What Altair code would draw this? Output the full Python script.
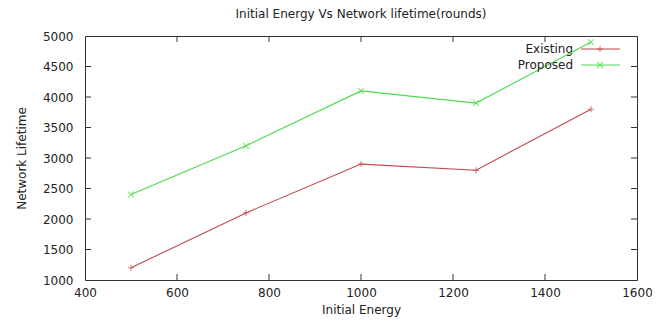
import altair as alt
import pandas as pd

energy = [500, 750, 1000, 1250, 1500]
existing = [1200, 2100, 2900, 2800, 3800]
proposed = [2400, 3200, 4100, 3900, 4900]
series_names = ["Existing", "Proposed"]
series_colors = ["#c04848", "#4cdc4c"]
x_ticks = [400, 600, 800, 1000, 1200, 1400, 1600]
y_ticks = [1000, 1500, 2000, 2500, 3000, 3500, 4000, 4500, 5000]

W, H = 552, 244
FONT = "DejaVu Sans"

xs = alt.Scale(domain=[x_ticks[0], x_ticks[-1]], nice=False)
ys = alt.Scale(domain=[y_ticks[0], y_ticks[-1]], nice=False)

shapes = ["M-1,0L1,0M0,-1L0,1", "M-1,-1L1,1M-1,1L1,-1"]

x_axis = alt.Axis(
    title="Initial Energy", values=x_ticks, format="d", tickSize=0, labelPadding=7,
    labelFont=FONT, labelFontSize=12, labelColor="#222", titleFont=FONT,
    titleFontSize=12, titleFontWeight="normal", titleColor="#222",
    titlePadding=6, grid=False, domain=False, labelFlush=False, labelOverlap=False)
y_axis = alt.Axis(
    title="Network Lifetime", values=y_ticks, format="d", tickSize=0, labelPadding=12,
    labelFont=FONT, labelFontSize=12, labelColor="#222", titleFont=FONT,
    titleFontSize=12, titleFontWeight="normal", titleColor="#222",
    titlePadding=14, grid=False, domain=False, labelFlush=False, labelOverlap=False)

layers = []
for i, (name, vals) in enumerate([(series_names[0], existing), (series_names[1], proposed)]):
    sdf = pd.DataFrame({"energy": energy, "lifetime": vals})
    base = alt.Chart(sdf)
    line = base.mark_line(color=series_colors[i], strokeWidth=1.1).encode(
        x=alt.X("energy:Q", scale=xs, axis=x_axis),
        y=alt.Y("lifetime:Q", scale=ys, axis=y_axis),
    )
    pts = base.mark_point(shape=shapes[i], filled=False, size=36, color=series_colors[i],
                          strokeWidth=1.1).encode(
        x=alt.X("energy:Q", scale=xs, axis=x_axis),
        y=alt.Y("lifetime:Q", scale=ys, axis=y_axis))
    layers += [line, pts]

    # legend (gnuplot style: label then sample)
    ly = 13 + i * 16
    leg = pd.DataFrame({"name": [name]})
    ltext = alt.Chart(leg).mark_text(align="right", baseline="middle", font=FONT,
                                     fontSize=12, color="#222").encode(
        text="name:N", x=alt.value(W - 64), y=alt.value(ly))
    lrule = alt.Chart(leg).mark_rule(color=series_colors[i], strokeWidth=1.1).encode(
        x=alt.value(W - 56), x2=alt.value(W - 17), y=alt.value(ly))
    lpt = alt.Chart(leg).mark_point(shape=shapes[i], filled=False, size=36,
                                    color=series_colors[i], strokeWidth=1.1).encode(
        x=alt.value(W - 37), y=alt.value(ly))
    layers += [ltext, lrule, lpt]

# inward ticks (mirrored)
xt = pd.DataFrame({"t": x_ticks[1:-1]})
yt = pd.DataFrame({"t": y_ticks[1:-1]})
tick_color = "#333"
layers += [
    alt.Chart(xt).mark_rule(color=tick_color).encode(
        x=alt.X("t:Q", scale=xs, axis=x_axis), y=alt.value(H), y2=alt.value(H - 6)),
    alt.Chart(xt).mark_rule(color=tick_color).encode(
        x=alt.X("t:Q", scale=xs, axis=x_axis), y=alt.value(0), y2=alt.value(6)),
    alt.Chart(yt).mark_rule(color=tick_color).encode(
        y=alt.Y("t:Q", scale=ys, axis=y_axis), x=alt.value(0), x2=alt.value(6)),
    alt.Chart(yt).mark_rule(color=tick_color).encode(
        y=alt.Y("t:Q", scale=ys, axis=y_axis), x=alt.value(W), x2=alt.value(W - 6)),
]

chart = alt.layer(*layers).properties(
    width=W, height=H,
    title=alt.TitleParams("Initial Energy Vs Network lifetime(rounds)", font=FONT,
                          fontSize=12, fontWeight="normal", color="#222", offset=9),
    autosize=alt.AutoSizeParams(type="none"),
    padding={"left": 77, "top": 28, "right": 15, "bottom": 39},
    background="white",
).configure_view(stroke="#333", strokeWidth=1)

chart.save("out.html", embed_options={"renderer": "svg", "actions": False})
